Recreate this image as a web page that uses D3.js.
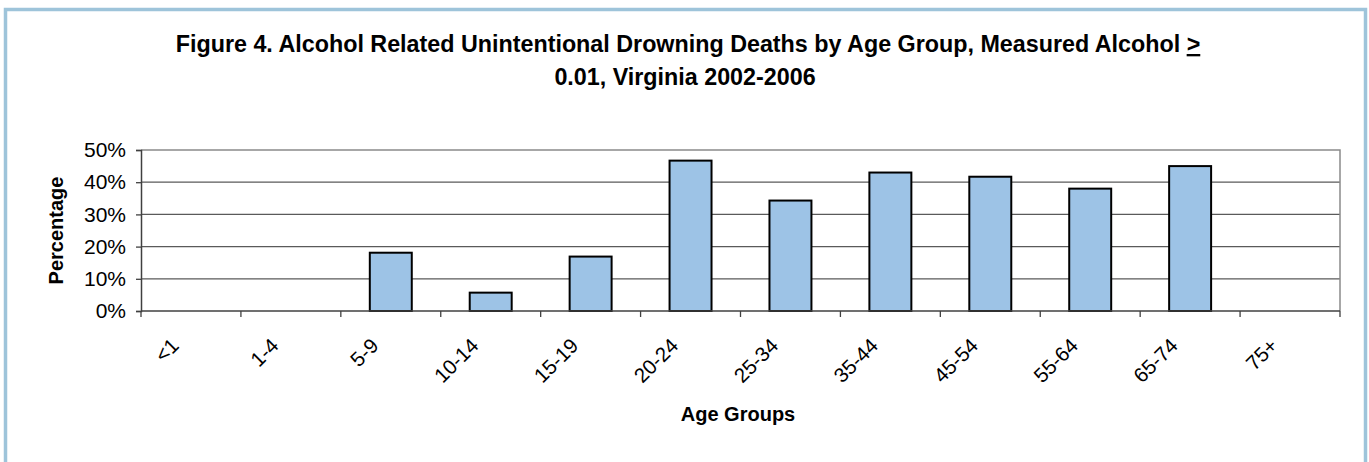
<!DOCTYPE html>
<html>
<head>
<meta charset="utf-8">
<script src="https://cdn.jsdelivr.net/npm/d3@7"></script>
<style>
  html, body { margin: 0; padding: 0; background: #fff; }
  svg { display: block; }
  text { font-family: "Liberation Sans", Arial, sans-serif; fill: #000; }
</style>
</head>
<body>
<svg id="chart" width="1369" height="462"></svg>
<script>
// Share of unintentional drowning deaths with measured alcohol >= 0.01, by age group
const ageGroups = ["<1", "1-4", "5-9", "10-14", "15-19", "20-24", "25-34", "35-44", "45-54", "55-64", "65-74", "75+"];
const percentages = [0, 0, 18.1, 5.7, 16.9, 46.7, 34.3, 43.0, 41.7, 38.0, 45.0, 0];
const yTicks = [0, 10, 20, 30, 40, 50];
const titleLines = ["Figure 4. Alcohol Related Unintentional Drowning Deaths by Age Group, Measured Alcohol ", "0.01, Virginia 2002-2006"];

const svg = d3.select("#chart");
const plot = { left: 141, right: 1340, top: 150, bottom: 311 };

// outer frame
svg.append("rect")
  .attr("x", 5.5).attr("y", 9.5)
  .attr("width", 1360).attr("height", 470)
  .attr("fill", "#fff")
  .attr("stroke", "#9ec4da").attr("stroke-width", 3.5);

// title
const title = svg.append("g").attr("font-weight", "bold").attr("font-size", 23.3);
const t1 = title.append("text")
  .attr("x", 688).attr("y", 52).attr("text-anchor", "middle");
t1.append("tspan").text(titleLines[0]);
t1.append("tspan").attr("text-decoration", "underline").text(">");
title.append("text")
  .attr("x", 685).attr("y", 85).attr("text-anchor", "middle")
  .text(titleLines[1]);

const x = d3.scaleBand()
  .domain(ageGroups)
  .range([plot.left, plot.right])
  .paddingInner(0.58)
  .paddingOuter(0.29);
const step = x.step();

const y = d3.scaleLinear().domain([0, 50]).range([plot.bottom, plot.top]);

// gridlines
svg.append("g")
  .selectAll("line")
  .data(yTicks.filter(d => d > 0 && d < 50))
  .join("line")
  .attr("x1", plot.left).attr("x2", plot.right)
  .attr("y1", d => y(d)).attr("y2", d => y(d))
  .attr("stroke", "#5a5a5a").attr("stroke-width", 1.3);

// plot area border (top and right)
svg.append("path")
  .attr("d", `M${plot.left},${y(50)}H${plot.right}V${plot.bottom}`)
  .attr("fill", "none").attr("stroke", "#8a8a8a").attr("stroke-width", 1.5);

// bars
svg.append("g")
  .selectAll("rect")
  .data(ageGroups.map((g, i) => ({ g, v: percentages[i] })).filter(d => d.v > 0))
  .join("rect")
  .attr("x", d => x(d.g))
  .attr("width", x.bandwidth())
  .attr("y", d => y(d.v))
  .attr("height", d => y(0) - y(d.v))
  .attr("fill", "#9dc3e6")
  .attr("stroke", "#000").attr("stroke-width", 2);

// y axis
const yAxis = svg.append("g")
  .attr("transform", `translate(${plot.left},0)`)
  .call(d3.axisLeft(y).tickValues(yTicks).tickFormat(d => d + "%").tickSize(5).tickPadding(10));
yAxis.select(".domain").attr("stroke", "#404040").attr("stroke-width", 1.5);
yAxis.selectAll(".tick line").attr("stroke", "#404040").attr("stroke-width", 1.3);
yAxis.selectAll(".tick text")
  .attr("font-family", "Liberation Sans, Arial, sans-serif")
  .attr("font-size", 21).attr("fill", "#000");

// x axis: ticks on category boundaries
const xAxisG = svg.append("g");
xAxisG.append("line")
  .attr("x1", plot.left).attr("x2", plot.right)
  .attr("y1", plot.bottom).attr("y2", plot.bottom)
  .attr("stroke", "#404040").attr("stroke-width", 1.5);
const boundaries = ageGroups.map(g => x(g) - step * 0.29).concat([plot.right]);
xAxisG.selectAll("line.tk")
  .data(boundaries)
  .join("line")
  .attr("class", "tk")
  .attr("x1", d => d).attr("x2", d => d)
  .attr("y1", plot.bottom).attr("y2", plot.bottom + 6)
  .attr("stroke", "#404040").attr("stroke-width", 1.3);
xAxisG.selectAll("text")
  .data(ageGroups)
  .join("text")
  .attr("transform", g => `translate(${x(g) + x.bandwidth() / 2 - 11},${plot.bottom + 36}) rotate(-45)`)
  .attr("text-anchor", "end")
  .attr("font-size", 20.5)
  .text(g => g);

// axis titles
svg.append("text")
  .attr("transform", `translate(63,${(plot.top + plot.bottom) / 2}) rotate(-90)`)
  .attr("text-anchor", "middle")
  .attr("font-weight", "bold").attr("font-size", 20)
  .text("Percentage");
svg.append("text")
  .attr("x", 738).attr("y", 421)
  .attr("text-anchor", "middle")
  .attr("font-weight", "bold").attr("font-size", 20)
  .text("Age Groups");
</script>
</body>
</html>
